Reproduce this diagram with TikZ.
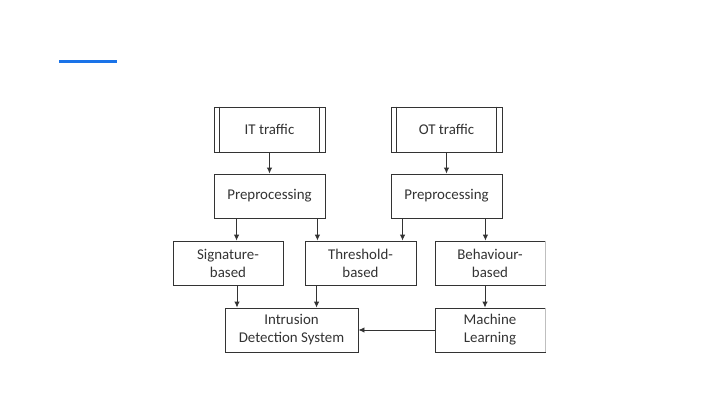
\documentclass[tikz,border=0pt]{standalone}
\usepackage{fontspec}
\setmainfont{Carlito}
\usetikzlibrary{arrows.meta}
\definecolor{accent}{HTML}{1A73E8}
\definecolor{ln}{HTML}{333333}
\definecolor{tx}{HTML}{333333}
\begin{document}
\begin{tikzpicture}[x=1pt,y=-1pt,
  box/.style={draw=ln, line width=0.9pt, fill=white, minimum width=111pt, minimum height=44pt,
    inner sep=0pt, align=center, text=tx, font=\fontsize{14.9}{18}\selectfont},
  arr/.style={draw=ln, line width=0.9pt, -{Latex[length=6pt,width=5.5pt]}}]
\useasboundingbox (0,0) rectangle (720,405);
\fill[white] (0,0) rectangle (720,405);
\draw[accent, line width=3pt] (59,61) -- (117,61);

\node[box, minimum height=45pt] (it) at (269.5,129.5) {IT traffic};
\node[box, minimum height=45pt] (ot) at (446.5,129.5) {OT traffic};
\foreach \n in {it,ot}{
  \draw[ln, line width=0.9pt] ([xshift=6pt]\n.north west) -- ([xshift=6pt]\n.south west);
  \draw[ln, line width=0.9pt] ([xshift=-6pt]\n.north east) -- ([xshift=-6pt]\n.south east);
}
\node[box] (p1) at (269.5,196) {Preprocessing};
\node[box] (p2) at (446.5,196) {Preprocessing};
\node[box, minimum width=110pt] (sig) at (228,263) {Signature-\\based};
\node[box] (thr) at (360.5,263) {Threshold-\\based};
\node[box, minimum width=110pt] (beh) at (490,263) {Behaviour-\\based};
\node[box, minimum width=133pt] (ids) at (291.5,330) {Intrusion\\Detection System};
\node[box, minimum width=110pt] (ml) at (490,330) {Machine\\Learning};
\draw[black!25, line width=0.9pt] (beh.north east) -- (beh.south east);
\draw[black!25, line width=0.9pt] (ml.north east) -- (ml.south east);

\draw[arr] (it.south) -- (p1.north);
\draw[arr] (ot.south) -- (p2.north);
\draw[arr] ([xshift=23pt]p1.south west) -- ([xshift=23pt]p1.south west |- sig.north);
\draw[arr] ([xshift=-8pt]p1.south east) -- ([xshift=-8pt]p1.south east |- thr.north);
\draw[arr] ([xshift=12pt]p2.south west) -- ([xshift=12pt]p2.south west |- thr.north);
\draw[arr] ([xshift=-17pt]p2.south east) -- ([xshift=-17pt]p2.south east |- beh.north);
\draw[arr] ([xshift=9pt]sig.south) -- ([xshift=9pt]sig.south |- ids.north);
\draw[arr] ([xshift=12pt]thr.south west) -- ([xshift=12pt]thr.south west |- ids.north);
\draw[arr] ([xshift=-5pt]beh.south) -- ([xshift=-5pt]beh.south |- ml.north);
\draw[arr] (ml.west) -- (ids.east);
\end{tikzpicture}
\end{document}
